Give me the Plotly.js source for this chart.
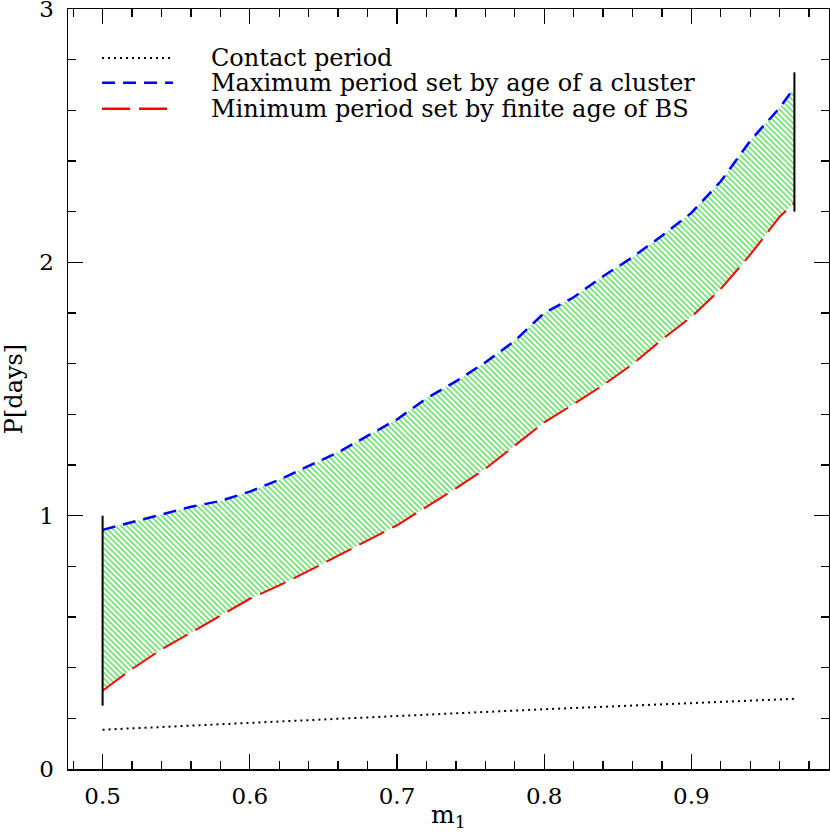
<!DOCTYPE html>
<html>
<head>
<meta charset="utf-8">
<script src="https://cdn.plot.ly/plotly-3.0.1.min.js"></script>
<style>html,body{margin:0;padding:0;background:#fff;}#chart{width:830px;height:832px;}</style>
</head>
<body>
<div id="chart"></div>
<script>
// primary mass m1
var m1 = [0.50,0.52,0.54,0.56,0.58,0.60,0.62,0.64,0.66,0.68,0.70,0.72,0.74,0.76,0.78,0.80,0.82,0.84,0.86,0.88,0.90,0.92,0.94,0.96,0.97];
// Maximum period set by age of a cluster (days)
var pMax = [0.944,0.975,1.005,1.035,1.058,1.095,1.142,1.195,1.250,1.315,1.380,1.463,1.530,1.605,1.690,1.800,1.862,1.945,2.020,2.105,2.195,2.320,2.480,2.610,2.690];
// Minimum period set by finite age of BS (days)
var pMin = [0.309,0.395,0.472,0.540,0.605,0.672,0.725,0.782,0.842,0.900,0.962,1.035,1.108,1.185,1.275,1.368,1.440,1.515,1.598,1.695,1.785,1.895,2.030,2.180,2.235];
// Contact period (days)
var mContact = [0.50,0.60,0.70,0.80,0.90,0.97];
var pContact = [0.155,0.182,0.210,0.236,0.260,0.277];
// vertical bounding bars at the ends of the allowed region
var barX = [0.50,0.97];
var barLo = [0.25,2.20];
var barHi = [1.00,2.75];
// legend labels
var legendLabels = ["Contact period","Maximum period set by age of a cluster","Minimum period set by finite age of BS"];

var serif = "DejaVu Serif, Liberation Serif, serif";

var bx = [], by = [];
for (var i = 0; i < barX.length; i++) {
  bx.push(barX[i], barX[i], null);
  by.push(barLo[i], barHi[i], null);
}

var traces = [
  {x: m1, y: pMin, mode: 'lines', line: {color: '#ff0000', width: 2, dash: '28px,9px'}, hoverinfo: 'skip', showlegend: false},
  {x: m1, y: pMax, mode: 'lines', fill: 'tonexty',
   fillpattern: {shape: '\\', fgcolor: '#66dd66', bgcolor: '#ffffff', size: 4, solidity: 0.4},
   line: {color: '#0000ff', width: 2.5, dash: '13px,8px'}, hoverinfo: 'skip', showlegend: false},
  {x: mContact, y: pContact, mode: 'lines', line: {color: '#000000', width: 2, dash: '2px,4px'}, showlegend: false},
  {x: bx, y: by, mode: 'lines', line: {color: '#000000', width: 2}, showlegend: false}
];

var legRowsY = [0.9356, 0.9028, 0.8686];
var legStyles = [
  {color: '#000000', width: 2, dash: '2px,4px'},
  {color: '#0000ff', width: 2.5, dash: '13px,8px'},
  {color: '#ff0000', width: 2.5, dash: '28px,9px'}
];
var shapes = [], annotations = [];
for (var k = 0; k < legendLabels.length; k++) {
  shapes.push({type: 'line', xref: 'paper', yref: 'paper', x0: 0.0447, x1: 0.138, y0: legRowsY[k], y1: legRowsY[k], line: legStyles[k]});
  annotations.push({xref: 'paper', yref: 'paper', x: 0.1853, y: legRowsY[k], xanchor: 'left', yanchor: 'middle',
    text: legendLabels[k], showarrow: false, font: {family: serif, size: 24, color: '#000'}});
}

var layout = {
  width: 830, height: 832,
  margin: {l: 68, r: 1, t: 9, b: 63, pad: 0},
  paper_bgcolor: '#fff', plot_bgcolor: '#fff',
  showlegend: false,
  xaxis: {
    range: [0.4765, 0.9935], showgrid: false, zeroline: false,
    showline: true, linecolor: '#000', linewidth: 1.5, mirror: 'ticks',
    ticks: 'inside', ticklen: 15, tickwidth: 1.3, tickcolor: '#000',
    tick0: 0.5, dtick: 0.1, tickformat: '.1f',
    minor: {ticks: 'inside', ticklen: 8, tickwidth: 1.3, tickcolor: '#000', dtick: 0.02, tick0: 0.5, showgrid: false},
    tickfont: {family: serif, size: 23, color: '#000'},
    ticklabelstandoff: 6, ticklabeloverflow: 'allow',
    title: {text: 'm<sub>1</sub>', font: {family: serif, size: 25, color: '#000'}, standoff: 4}
  },
  yaxis: {
    range: [0, 3], showgrid: false, zeroline: false,
    showline: true, linecolor: '#000', linewidth: 1.5, mirror: 'ticks',
    ticks: 'inside', ticklen: 15, tickwidth: 1.3, tickcolor: '#000',
    tick0: 0, dtick: 1,
    minor: {ticks: 'inside', ticklen: 8, tickwidth: 1.3, tickcolor: '#000', dtick: 0.2, tick0: 0, showgrid: false},
    tickfont: {family: serif, size: 23, color: '#000'},
    ticklabelstandoff: 8, ticklabeloverflow: 'allow',
    title: {text: 'P[days]', font: {family: serif, size: 24, color: '#000'}, standoff: 10}
  },
  shapes: shapes,
  annotations: annotations
};

Plotly.newPlot('chart', traces, layout, {displayModeBar: false, staticPlot: true});
</script>
</body>
</html>
